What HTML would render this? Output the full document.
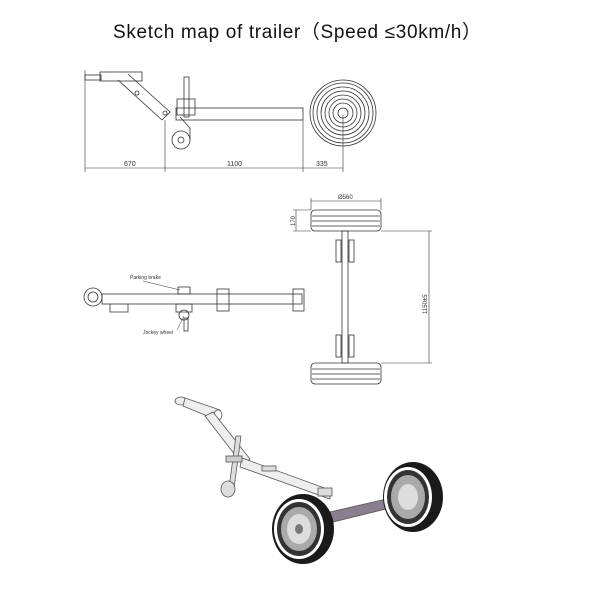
<!DOCTYPE html>
<html><head><meta charset="utf-8"><style>
body{margin:0;background:#fff}
svg{display:block}
text{font-family:"Liberation Sans",sans-serif}
</style></head><body>
<svg width="600" height="600" viewBox="0 0 600 600" xmlns="http://www.w3.org/2000/svg">
<rect width="600" height="600" fill="#fff"/>
<text x="113" y="38" font-size="19" fill="#111" textLength="368">Sketch map of trailer（Speed ≤30km/h）</text>

<!-- TOP VIEW -->
<g stroke="#333" stroke-width="0.8" fill="none">
<rect x="85" y="75" width="16" height="5"/>
<rect x="100" y="72" width="42" height="9"/>
<path d="M118 80 L162 120 L170 112 L128 74"/>
<circle cx="137" cy="93" r="2"/>
<circle cx="165" cy="113" r="2"/>
<rect x="176" y="108" width="127" height="12"/>
<rect x="184" y="77" width="5" height="40"/>
<rect x="177" y="99" width="18" height="16"/>
<circle cx="181" cy="140" r="9"/><circle cx="181" cy="140" r="3"/>
<path d="M180 117 L190 128 L190 140"/>
<circle cx="343" cy="113" r="33"/><circle cx="343" cy="113" r="30"/>
<circle cx="343" cy="113" r="26"/><circle cx="343" cy="113" r="22"/>
<circle cx="343" cy="113" r="18"/><circle cx="343" cy="113" r="14"/>
<circle cx="343" cy="113" r="10"/><circle cx="343" cy="113" r="5"/>
</g>
<g stroke="#333" stroke-width="0.6">
<line x1="85" y1="70" x2="85" y2="172"/>
<line x1="165" y1="120" x2="165" y2="172"/>
<line x1="303" y1="120" x2="303" y2="172"/>
<line x1="343" y1="115" x2="343" y2="172"/>
<line x1="85" y1="168" x2="343" y2="168"/>
</g>
<g font-size="7" fill="#333"><text x="124" y="166" font-family="Liberation Serif">670</text>
<text x="227" y="166" font-family="Liberation Serif">1100</text>
<text x="316" y="166" font-family="Liberation Serif">335</text></g>

<!-- SIDE VIEW -->
<g stroke="#333" stroke-width="0.8" fill="none">
<circle cx="93" cy="297" r="9"/><circle cx="93" cy="297" r="5"/>
<rect x="102" y="294" width="200" height="10"/>
<rect x="217" y="289" width="12" height="22"/>
<rect x="293" y="289" width="11" height="22"/>
<path d="M110 304 v8 h18 v-8"/>
<rect x="178" y="287" width="12" height="7"/>
<rect x="176" y="304" width="16" height="8"/>
<circle cx="184" cy="315" r="5"/>
<rect x="184" y="318" width="4" height="13"/>
<line x1="143" y1="281" x2="180" y2="290" stroke-width="0.5"/>
<line x1="177" y1="330" x2="184" y2="316" stroke-width="0.5"/>
</g>
<text x="130" y="279" font-size="5" fill="#333">Parking brake</text>
<text x="143" y="334" font-size="5" fill="#333">Jockey wheel</text>

<!-- AXLE TOP VIEW -->
<g stroke="#333" stroke-width="0.8" fill="none">
<rect x="311" y="210" width="70" height="21" rx="4"/>
<line x1="312" y1="216" x2="380" y2="216"/><line x1="312" y1="221" x2="380" y2="221"/><line x1="312" y1="226" x2="380" y2="226"/>
<rect x="311" y="363" width="70" height="21" rx="4"/>
<line x1="312" y1="369" x2="380" y2="369"/><line x1="312" y1="374" x2="380" y2="374"/><line x1="312" y1="379" x2="380" y2="379"/>
<rect x="342" y="231" width="6" height="132"/>
<rect x="336" y="240" width="5" height="22"/><rect x="349" y="240" width="5" height="22"/>
<rect x="336" y="335" width="5" height="22"/><rect x="349" y="335" width="5" height="22"/>
</g>
<g stroke="#333" stroke-width="0.6">
<line x1="311" y1="201" x2="381" y2="201"/>
<line x1="311" y1="198" x2="311" y2="210"/><line x1="381" y1="198" x2="381" y2="210"/>
<line x1="293" y1="210" x2="311" y2="210"/><line x1="293" y1="231" x2="311" y2="231"/>
<line x1="296" y1="210" x2="296" y2="231"/>
<line x1="381" y1="231" x2="432" y2="231"/><line x1="381" y1="363" x2="432" y2="363"/>
<line x1="429" y1="231" x2="429" y2="363"/>
</g>
<text x="338" y="199" font-size="6" fill="#333">Ø560</text>
<text transform="translate(295,226) rotate(-90)" font-size="6" fill="#333">170</text>
<text transform="translate(427,314) rotate(-90)" font-size="6" fill="#333">1150±5</text>

<!-- 3D VIEW -->
<g stroke="#555" stroke-width="0.8">
<ellipse cx="181" cy="401" rx="6" ry="4" fill="#eee"/>
<path d="M185 398 L220 410 L217 420 L183 406 Z" fill="#eee"/>
<ellipse cx="218" cy="415" rx="4" ry="5" fill="#fff"/>
<path d="M205 416 L242 464 L250 459 L213 412 Z" fill="#eee"/>
<path d="M242 458 L330 490 L330 499 L240 467 Z" fill="#eee"/>
<path d="M236 436 L241 436 L234 488 L229 488 Z" fill="#ddd"/>
<ellipse cx="228" cy="489" rx="7" ry="8" fill="#ddd"/>
<path d="M330 512 L408 494 L410 503 L333 522 Z" fill="#8a7f90"/>
<rect x="262" y="466" width="14" height="5" fill="#ddd"/>
<rect x="226" y="456" width="16" height="6" fill="#ccc"/>
<rect x="318" y="488" width="14" height="8" fill="#ddd"/>
</g>
<g>
<ellipse cx="413" cy="497" rx="30" ry="35" fill="#1a1a1a"/>
<ellipse cx="408" cy="497" rx="24" ry="30" fill="#fff"/>
<ellipse cx="408" cy="497" rx="21" ry="27" fill="#333"/>
<ellipse cx="408" cy="497" rx="17" ry="22" fill="#aaa"/>
<ellipse cx="408" cy="497" rx="10" ry="13" fill="#ddd"/>
<ellipse cx="303" cy="529" rx="31" ry="35" fill="#1a1a1a"/>
<ellipse cx="299" cy="529" rx="25" ry="30" fill="#fff"/>
<ellipse cx="299" cy="529" rx="22" ry="27" fill="#333"/>
<ellipse cx="299" cy="529" rx="18" ry="22" fill="#aaa"/>
<ellipse cx="299" cy="529" rx="12" ry="15" fill="#ddd"/>
<ellipse cx="299" cy="529" rx="4" ry="5" fill="#777"/>
</g>
</svg>
</body></html>
